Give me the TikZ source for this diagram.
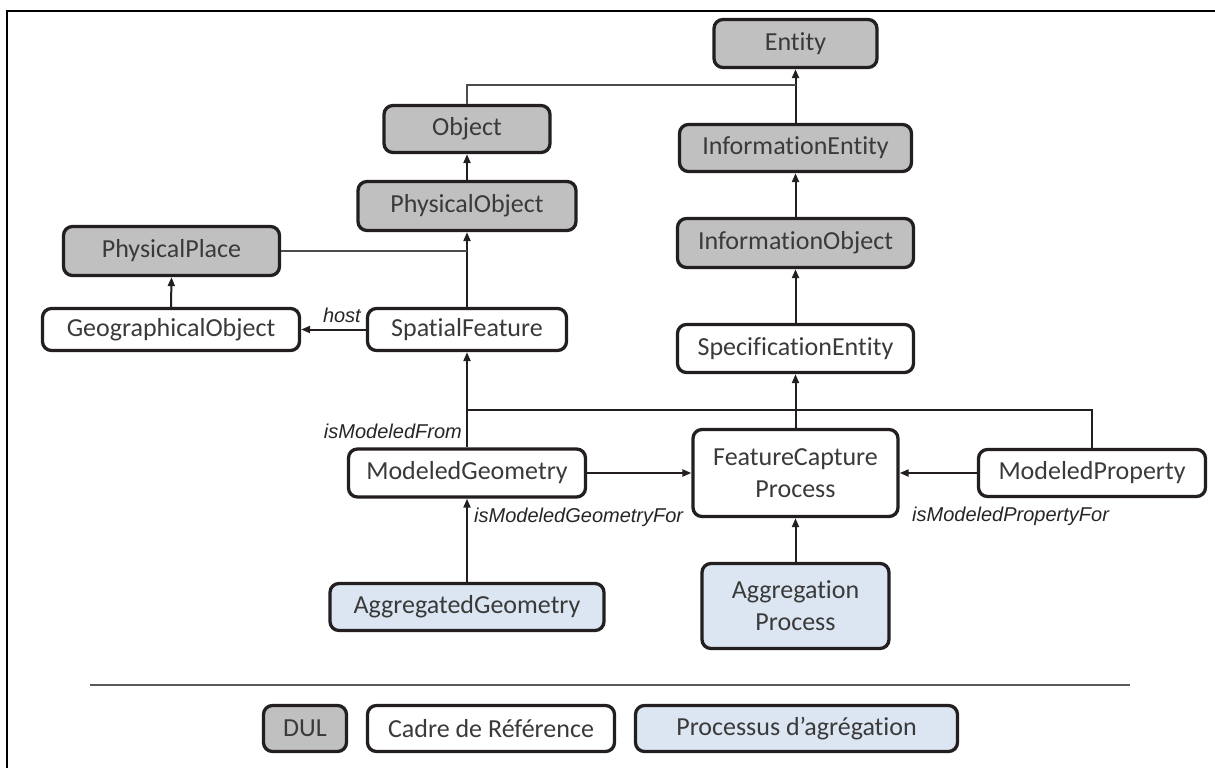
\documentclass[tikz,border=0pt]{standalone}
\usepackage{fontspec}
\setmainfont{Carlito}[Ligatures={NoCommon,NoRare}]
\newfontfamily\lblfont{Liberation Sans}
\usetikzlibrary{arrows.meta}
\definecolor{dulgray}{HTML}{C0C0C0}
\definecolor{aggblue}{HTML}{DCE6F2}
\definecolor{edgec}{HTML}{231F20}
\definecolor{txtc}{HTML}{3A3A3A}
\begin{document}
\begin{tikzpicture}[x=1pt,y=-1pt,
 box/.style={draw=edgec, line width=3.3pt, rounded corners=9pt, inner sep=0pt, align=center, font=\fontsize{26}{32}\selectfont, text=txtc},
 dul/.style={box, fill=dulgray},
 ref/.style={box, fill=white},
 agg/.style={box, fill=aggblue},
 conn/.style={draw=edgec, line width=2pt},
 arr/.style={conn, -{Triangle[length=9pt,width=7pt]}},
 joinline/.style={draw=black!70, line width=2pt},
 lbl/.style={font=\lblfont\itshape\fontsize{20}{24}\selectfont, inner sep=0pt, text=black!85},
]
\useasboundingbox (0,0) rectangle (1215,768);
% frame
\draw[line width=2.5pt, black] (7,768) -- (7,11) -- (1215,11);

% nodes
\node[dul, minimum width=163pt, minimum height=48pt] (entity) at (795.5,43.5) {Entity};
\node[dul, minimum width=166pt, minimum height=47pt] (object) at (467,129) {Object};
\node[dul, minimum width=232pt, minimum height=47pt] (infoent) at (795.5,148) {InformationEntity};
\node[dul, minimum width=218pt, minimum height=49pt] (physobj) at (467,206) {PhysicalObject};
\node[dul, minimum width=236pt, minimum height=49pt] (infoobj) at (795.5,243) {InformationObject};
\node[dul, minimum width=216pt, minimum height=49pt] (physplace) at (171.5,251) {PhysicalPlace};
\node[ref, minimum width=257pt, minimum height=42pt] (geo) at (171,329.5) {GeographicalObject};
\node[ref, minimum width=199pt, minimum height=42pt] (spatial) at (467,329.5) {SpatialFeature};
\node[ref, minimum width=236pt, minimum height=48pt] (specent) at (795.5,348.5) {SpecificationEntity};
\node[ref, minimum width=237pt, minimum height=48pt] (modgeom) at (467,473) {ModeledGeometry};
\node[ref, minimum width=205pt, minimum height=87pt] (fcp) at (795.5,473) {FeatureCapture\\Process};
\node[ref, minimum width=227pt, minimum height=47pt] (modprop) at (1092,473) {ModeledProperty};
\node[agg, minimum width=274pt, minimum height=47pt] (agggeom) at (467,607) {AggregatedGeometry};
\node[agg, minimum width=187pt, minimum height=85pt] (aggproc) at (795.5,606) {Aggregation\\Process};

% junction points
\coordinate (ej) at (795.5,85);
\coordinate (pj) at (467,251);
\coordinate (mj) at (467,410);

% connectors
\draw[arr] (infoent.north) -- (entity.south);
\draw[joinline] (object.north) |- (ej);
\draw[arr] (infoobj.north) -- (infoent.south);
\draw[arr] (specent.north) -- (infoobj.south);
\draw[arr] (physobj.north) -- (object.south);
\draw[arr] (spatial.north) -- (physobj.south);
\draw[joinline] (physplace.east) -- (pj);
\draw[arr] (geo.north) -- (physplace.south);
\draw[arr] (spatial.west) -- (geo.east);
\draw[arr] (modgeom.north) -- (spatial.south);
\draw[conn] (modprop.north) |- (mj);
\draw[arr] (fcp.north) -- (specent.south);
\draw[arr] (modgeom.east) -- (fcp.west);
\draw[arr] (modprop.west) -- (fcp.east);
\draw[arr] (agggeom.north) -- (modgeom.south);
\draw[arr] (aggproc.north) -- (fcp.south);

% labels
\node[lbl, anchor=east] (lhost) at (361,315) {host};
\node[lbl, anchor=east] (lfrom) at (462,431) {isModeledFrom};
\node[lbl, anchor=west] (lgeom) at (474,517) {isModeledGeometryFor};
\node[lbl, anchor=west] (lprop) at (912,516) {isModeledPropertyFor};

% separator
\draw[line width=2pt, black!65] (90,685) -- (1130,685);

% legend
\node[dul, minimum width=83pt, minimum height=46pt] (legdul) at (305,728.5) {DUL};
\node[ref, minimum width=247pt, minimum height=46pt] (legref) at (491,728.5) {Cadre de Référence};
\node[agg, minimum width=322pt, minimum height=46pt] (legagg) at (796.5,728.5) {Processus d’agrégation};
\end{tikzpicture}
\end{document}
